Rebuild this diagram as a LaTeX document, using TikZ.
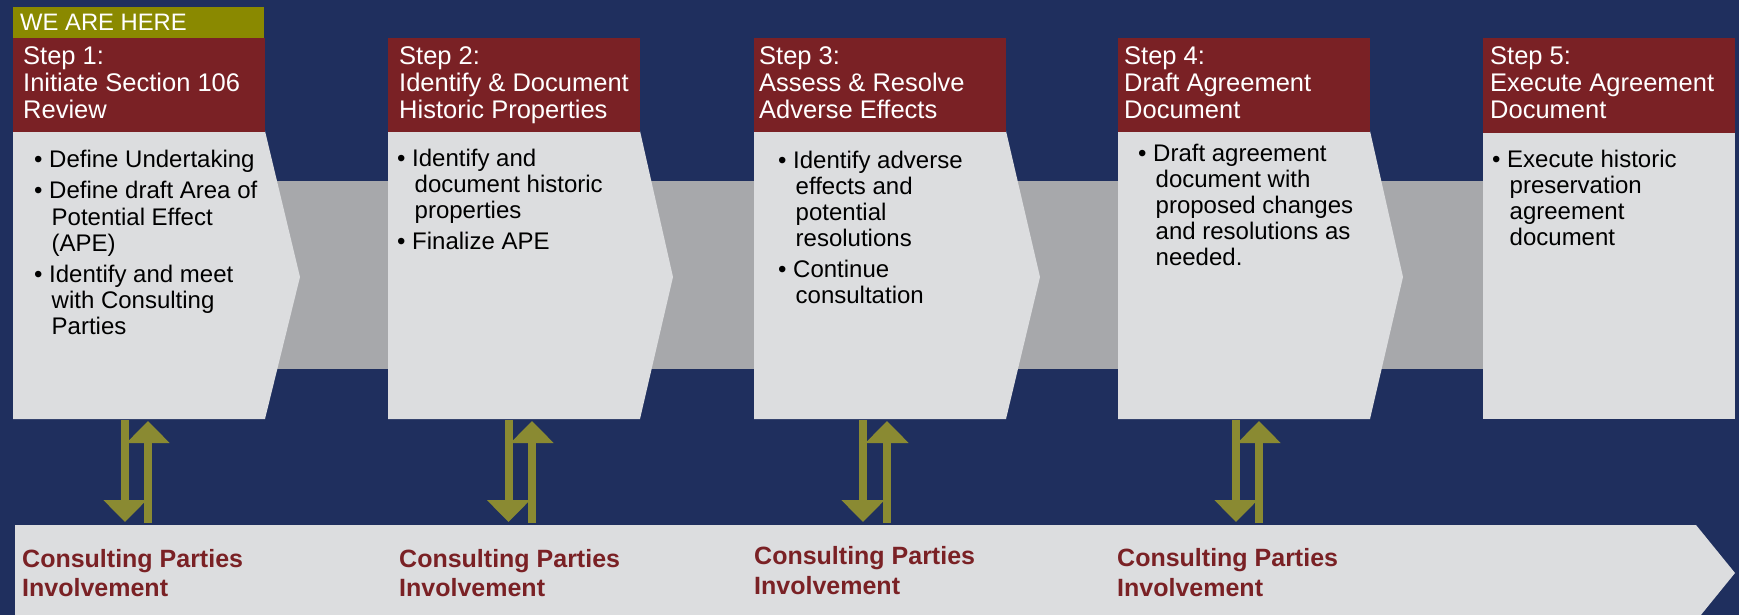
\documentclass[tikz,border=0pt]{standalone}
\usepackage{fontspec}
\setmainfont{Liberation Sans}
\usetikzlibrary{arrows.meta}
\definecolor{navy}{RGB}{31,47,94}
\definecolor{maroonc}{RGB}{122,33,37}
\definecolor{olivebox}{RGB}{138,137,0}
\definecolor{olivearrow}{RGB}{138,138,50}
\definecolor{lightg}{RGB}{220,221,223}
\definecolor{bandgray}{RGB}{167,168,171}
\newcommand{\bitem}[1]{\makebox[15pt][l]{\textbullet}#1}
\newcommand{\citem}[1]{\hspace*{17.5pt}#1}
\begin{document}
\begin{tikzpicture}[x=1pt,y=-1pt,
  hdtext/.style={anchor=base west, inner sep=0pt, text=white, font=\fontsize{25.5}{27}\selectfont},
  bodytext/.style={anchor=base west, inner sep=0pt, text=black, font=\fontsize{24}{26}\selectfont},
  cptext/.style={anchor=base west, inner sep=0pt, text=maroonc, font=\bfseries\fontsize{25}{29.5}\selectfont},
  heretext/.style={anchor=base west, inner sep=0pt, text=white, font=\fontsize{23.8}{25}\selectfont},
  hdbox/.style={fill=maroonc},
  bodybox/.style={fill=lightg},
  updown/.style={draw=olivearrow, line width=8pt, -{Triangle[width=42pt,length=22pt]}}
]
\useasboundingbox (0,0) rectangle (1739,615);
\clip (0,0) rectangle (1739,615);
\fill[navy] (0,0) rectangle (1739,615);

% gray band behind the steps
\fill[bandgray] (250,181) rectangle (1490,369);

% bottom band
\fill[bodybox] (15,525) -- (1696,525) -- (1735,573) -- (1696,621) -- (15,621) -- cycle;

% WE ARE HERE
\fill[olivebox] (13,7) rectangle (264,38);
\node[heretext] (here) at (20,30.7) {WE ARE HERE};

% step bodies
\fill[bodybox] (13,131) -- (265,131) -- (300,277) -- (265,419) -- (13,419) -- cycle;
\fill[bodybox] (388,131) -- (640,131) -- (673,277) -- (640,419) -- (388,419) -- cycle;
\fill[bodybox] (754,131) -- (1006,131) -- (1040,277) -- (1006,419) -- (754,419) -- cycle;
\fill[bodybox] (1118,131) -- (1370,131) -- (1403,277) -- (1370,419) -- (1118,419) -- cycle;
\fill[bodybox] (1483,131) rectangle (1735,419);

% headers
\fill[hdbox] (13,38) rectangle (265,132);
\fill[hdbox] (388,38) rectangle (640,132);
\fill[hdbox] (754,38) rectangle (1006,132);
\fill[hdbox] (1118,38) rectangle (1370,132);
\fill[hdbox] (1483,38) rectangle (1735,133);

\node[hdtext] (t1) at (23,65) {\begin{tabular}[t]{@{}l@{}}Step 1:\\Initiate Section 106\\Review\end{tabular}};
\node[hdtext] (t2) at (399,65) {\begin{tabular}[t]{@{}l@{}}Step 2:\\Identify \& Document\\Historic Properties\end{tabular}};
\node[hdtext] (t3) at (759,65) {\begin{tabular}[t]{@{}l@{}}Step 3:\\Assess \& Resolve\\Adverse Effects\end{tabular}};
\node[hdtext] (t4) at (1124,65) {\begin{tabular}[t]{@{}l@{}}Step 4:\\Draft Agreement\\Document\end{tabular}};
\node[hdtext] (t5) at (1490,65) {\begin{tabular}[t]{@{}l@{}}Step 5:\\Execute Agreement\\Document\end{tabular}};

% body texts
\node[bodytext] (l1) at (34,167.5) {\begin{tabular}[t]{@{}l@{}}\bitem{Define Undertaking}\\[5.5pt]\bitem{Define draft Area of}\\\citem{Potential Effect}\\\citem{(APE)}\\[5.5pt]\bitem{Identify and meet}\\\citem{with Consulting}\\\citem{Parties}\end{tabular}};
\node[bodytext] (l2) at (397,166.7) {\begin{tabular}[t]{@{}l@{}}\bitem{Identify and}\\\citem{document historic}\\\citem{properties}\\[4.5pt]\bitem{Finalize APE}\end{tabular}};
\node[bodytext] (l3) at (778,168) {\begin{tabular}[t]{@{}l@{}}\bitem{Identify adverse}\\\citem{effects and}\\\citem{potential}\\\citem{resolutions}\\[5.5pt]\bitem{Continue}\\\citem{consultation}\end{tabular}};
\node[bodytext] (l4) at (1138,161.7) {\begin{tabular}[t]{@{}l@{}}\bitem{Draft agreement}\\\citem{document with}\\\citem{proposed changes}\\\citem{and resolutions as}\\\citem{needed.}\end{tabular}};
\node[bodytext] (l5) at (1492,167) {\begin{tabular}[t]{@{}l@{}}\bitem{Execute historic}\\\citem{preservation}\\\citem{agreement}\\\citem{document}\end{tabular}};

% consulting parties texts
\node[cptext] (c1) at (22,567) {\begin{tabular}[t]{@{}l@{}}Consulting Parties\\Involvement\end{tabular}};
\node[cptext] (c2) at (399,567) {\begin{tabular}[t]{@{}l@{}}Consulting Parties\\Involvement\end{tabular}};
\node[cptext] (c3) at (754,564.5) {\begin{tabular}[t]{@{}l@{}}Consulting Parties\\Involvement\end{tabular}};
\node[cptext] (c4) at (1117,566.5) {\begin{tabular}[t]{@{}l@{}}Consulting Parties\\Involvement\end{tabular}};

% two-way arrows between steps and consulting parties
\foreach \i/\xd/\xu in {1/125/148, 2/508.5/532, 3/863/887, 4/1236/1259} {
  \coordinate (d\i s) at (\xd,420);
  \coordinate (d\i e) at (\xd,522);
  \coordinate (u\i s) at (\xu,523);
  \coordinate (u\i e) at (\xu,421);
  \draw[updown] (d\i s) -- (d\i e);
  \draw[updown] (u\i s) -- (u\i e);
}
\end{tikzpicture}
\end{document}
